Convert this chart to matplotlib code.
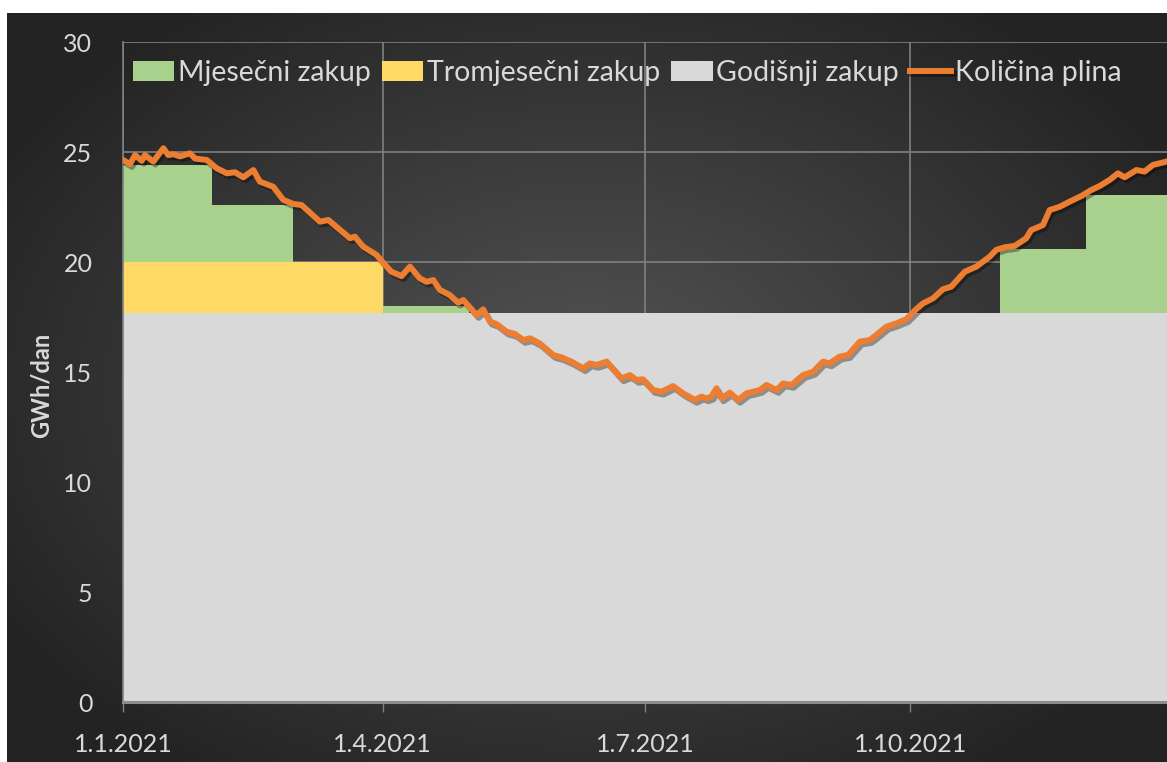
import numpy as np
import matplotlib.pyplot as plt
import matplotlib.patheffects as pe

# monthly layout of 2021 (day offsets from 1.1.2021)
month_days = [31, 28, 31, 30, 31, 30, 31, 31, 30, 31, 30, 31]

# contracted capacity, GWh/dan
annual_base = 17.67
quarterly_add = [2.33, 0.0, 0.0, 0.0]
monthly_add = [4.42, 2.61, 0.0, 0.34, 0.0, 0.0, 0.0, 0.0, 0.0, 0.0, 2.93, 5.36]

# gas demand (day of year, GWh/dan)
demand_day = [0, 2.4, 4.2, 6.5, 7.6, 10.5, 14, 15.7, 17.5, 19.8, 23.2, 25, 29, 32.5, 36,
              38.8, 41.7, 45.2, 47.5, 52.1, 55.6, 59, 61.9, 68.3, 71.2, 78.7, 80.4, 83.3,
              87.9, 90, 93, 96.6, 99.5, 102.9, 105.2, 107.6, 109.9, 113.3, 116.2, 118,
              122.6, 124.9, 127.2, 129.5, 133, 135.9, 138.8, 141.1, 144.5, 149.2, 152,
              155.5, 159.6, 161.9, 164.2, 167.7, 172.9, 175.7, 178.1, 180.3, 183.8, 186.7,
              190.7, 194.2, 198.3, 200.6, 202.3, 204, 205.8, 207.5, 210.4, 213.3, 216.2,
              220.8, 223.1, 226.6, 228.9, 231.8, 235.8, 239.3, 242.7, 245, 248.5, 251.4,
              255.5, 258.9, 261.2, 264.7, 268.1, 271.6, 275, 277.4, 280.9, 284.3, 287.2,
              291.9, 295.9, 300.5, 302.8, 305.7, 309.2, 313.2, 314.9, 319, 321.3, 324.8,
              328.2, 332.3, 335.7, 338.6, 342.1, 345, 347.3, 351.4, 354.2, 357.1, 361.7]
demand_val = [24.64, 24.45, 24.86, 24.60, 24.86, 24.56, 25.17, 24.86, 24.90, 24.80, 24.94,
              24.70, 24.64, 24.26, 24.03, 24.08, 23.85, 24.18, 23.65, 23.42, 22.82, 22.64,
              22.59, 21.83, 21.91, 21.08, 21.15, 20.70, 20.32, 20.00, 19.56, 19.36, 19.79,
              19.26, 19.10, 19.18, 18.73, 18.50, 18.15, 18.27, 17.59, 17.85, 17.29, 17.18,
              16.83, 16.73, 16.45, 16.53, 16.30, 15.77, 15.67, 15.47, 15.17, 15.39, 15.32,
              15.47, 14.71, 14.86, 14.64, 14.67, 14.18, 14.10, 14.36, 14.03, 13.73, 13.88,
              13.80, 13.88, 14.26, 13.80, 14.06, 13.73, 14.03, 14.18, 14.41, 14.18, 14.48,
              14.41, 14.86, 15.01, 15.47, 15.39, 15.70, 15.77, 16.38, 16.45, 16.68, 17.06,
              17.21, 17.40, 17.85, 18.12, 18.35, 18.76, 18.88, 19.56, 19.79, 20.24, 20.55,
              20.67, 20.73, 21.08, 21.45, 21.68, 22.36, 22.51, 22.74, 23.00, 23.27, 23.45,
              23.73, 24.03, 23.85, 24.18, 24.11, 24.41, 24.56]

tick_days = [0, 90, 181, 273]
tick_labels = ['1.1.2021', '1.4.2021', '1.7.2021', '1.10.2021']

labels = ['Mjesečni zakup', 'Tromjesečni zakup', 'Godišnji zakup', 'Količina plina']
colors = ['#A9D18E', '#FFD966', '#D9D9D9', '#ED7D31']
txt_col = '#D9D9D9'
grid_col = '#808080'

plt.rcParams['font.family'] = ['Lato', 'DejaVu Sans']

W, H = 1167, 762
fig = plt.figure(figsize=(W / 100, H / 100), dpi=100)

# dark gradient panel behind the chart
bg = fig.add_axes([7 / W, 0, 1 - 7 / W, 1 - 13 / H])
gx, gy = np.meshgrid(np.linspace(-1, 1, 400), np.linspace(-1, 1, 300))
r = np.sqrt((gx * 0.95) ** 2 + (gy * 0.9) ** 2)
shade = np.clip(0.33 - 0.17 * r, 0.14, 0.33)
bg.imshow(np.dstack([shade] * 3), aspect='auto', extent=[0, 1, 0, 1])
bg.set_axis_off()

ax = fig.add_axes([123 / W, 60 / H, 1 - 123 / W, 660 / H])
ax.patch.set_alpha(0)

edges = np.cumsum([0] + month_days)
annual = np.full(12, annual_base)
quarterly = annual + np.repeat(quarterly_add, 3)
monthly = quarterly + np.array(monthly_add)

def step(v):
    return np.append(v, v[-1])

h_ann = ax.fill_between(edges, 0, step(annual), step='post', color=colors[2], lw=0, zorder=1)
h_q = ax.fill_between(edges, step(annual), step(quarterly), step='post', color=colors[1], lw=0, zorder=1)
h_m = ax.fill_between(edges, step(quarterly), step(monthly), step='post', color=colors[0], lw=0, zorder=1)

line, = ax.plot(demand_day, demand_val, color=colors[3], lw=4.3, zorder=3,
                solid_joinstyle='round',
                path_effects=[pe.SimpleLineShadow(offset=(1.5, -2), shadow_color='k', alpha=0.35),
                              pe.Normal()])

ax.set_xlim(0, 362)
ax.set_ylim(0, 30)
ax.set_yticks(range(0, 31, 5))
ax.set_xticks(tick_days)
ax.set_xticklabels(tick_labels)

ax.set_axisbelow(True)
ax.grid(True, color=grid_col, lw=1.2)
ax.tick_params(axis='y', length=0, pad=22, labelsize=18, labelcolor=txt_col)
ax.tick_params(axis='x', length=7, width=1, color=grid_col, pad=15, labelsize=18, labelcolor=txt_col)

for s in ['top', 'right']:
    ax.spines[s].set_visible(False)
ax.spines['left'].set_color(grid_col)
ax.spines['left'].set_linewidth(1.2)
ax.spines['bottom'].set_color('#8c8c8c')
ax.spines['bottom'].set_linewidth(2.2)
ax.spines['bottom'].set_zorder(2.5)

fig.text(41 / W, 1 - 385 / H, 'GWh/dan', rotation=90, ha='center', va='center',
         fontsize=17, fontweight='bold', color=txt_col)

leg = ax.legend([h_m, h_q, h_ann, line], labels, ncol=4, frameon=False,
                loc='center left', bbox_to_anchor=(133 / W, 1 - 73 / H),
                bbox_transform=fig.transFigure, fontsize=20.5,
                handlelength=1.45, handleheight=0.65, handletextpad=0.12,
                columnspacing=0.4, borderaxespad=0, borderpad=0)
for t in leg.get_texts():
    t.set_color(txt_col)

fig.savefig('out.png', dpi=100, facecolor='white')
